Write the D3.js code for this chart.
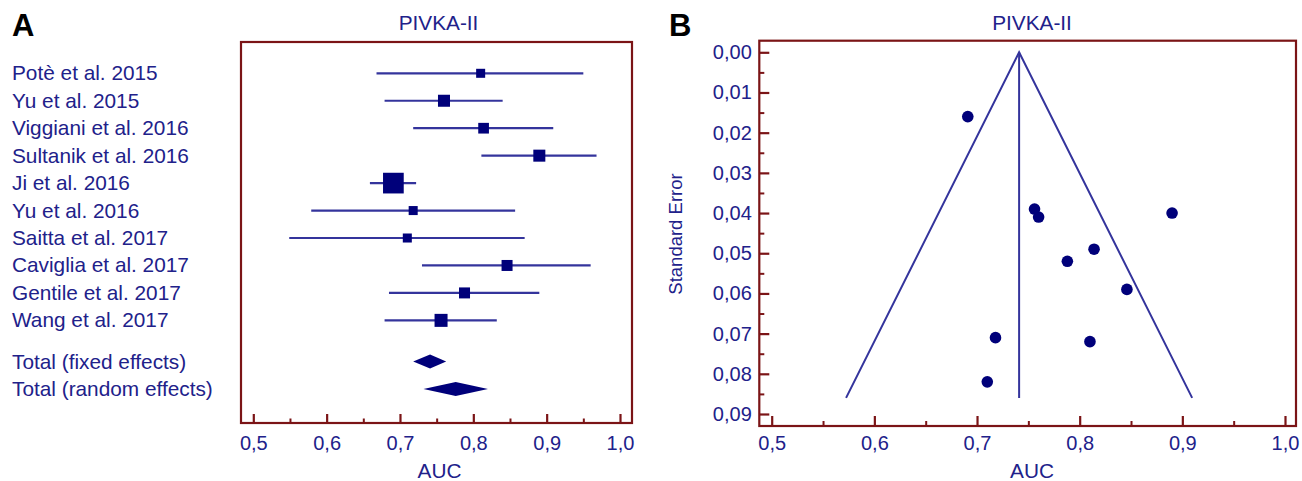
<!DOCTYPE html>
<html>
<head>
<meta charset="utf-8">
<script src="https://cdn.jsdelivr.net/npm/d3@7"></script>
<style>
  html, body { margin: 0; padding: 0; background: #fff; }
  svg { display: block; font-family: "Liberation Sans", Arial, sans-serif; }
</style>
</head>
<body>
<svg id="chart" width="1302" height="481"></svg>
<script>
// ---------- data ----------
const studies = ["Potè et al. 2015", "Yu et al. 2015", "Viggiani et al. 2016", "Sultanik et al. 2016",
  "Ji et al. 2016", "Yu et al. 2016", "Saitta et al. 2017", "Caviglia et al. 2017",
  "Gentile et al. 2017", "Wang et al. 2017"];
const auc     = [0.810, 0.760, 0.814, 0.890, 0.691, 0.718, 0.710, 0.846, 0.788, 0.756];
const ciLow   = [0.668, 0.679, 0.718, 0.811, 0.659, 0.579, 0.549, 0.730, 0.685, 0.679];
const ciHigh  = [0.950, 0.840, 0.909, 0.968, 0.722, 0.857, 0.870, 0.960, 0.890, 0.832];
const stdErr  = [0.072, 0.041, 0.049, 0.040, 0.016, 0.071, 0.082, 0.059, 0.052, 0.039];
const weights = [2.2, 8.7, 5.3, 8.7, 52.0, 2.2, 2.2, 6.0, 6.0, 11.8];
const totalLabels = ["Total (fixed effects)", "Total (random effects)"];
const totalLow  = [0.718, 0.732];
const totalEst  = [0.741, 0.776];
const totalHigh = [0.763, 0.820];
const funnelMaxSE = 0.086;
const aucTicks = [0.5, 0.6, 0.7, 0.8, 0.9, 1.0];
const aucMinorTicks = [0.55, 0.65, 0.75, 0.85, 0.95];
const seTicks = [0, 0.01, 0.02, 0.03, 0.04, 0.05, 0.06, 0.07, 0.08, 0.09];
const seMinorTicks = [0.005, 0.015, 0.025, 0.035, 0.045, 0.055, 0.065, 0.075, 0.085];
const title = "PIVKA-II";

// ---------- style ----------
const TEXT = "#21218a";
const LINE = "#34349c";
const MARK = "#00007a";
const BORDER = "#7b1416";
const FS = 20;
const FS_LBL = 20.8;

const loc = d3.formatLocale({decimal: ",", thousands: ".", grouping: [3], currency: ["", ""]});
const f1 = loc.format(".1f"), f2 = loc.format(".2f");

const svg = d3.select("#chart");

// ================= Panel A: forest plot =================
const A = {left: 241, right: 632, top: 42, bottom: 423};
const xA = d3.scaleLinear().domain([0.5, 1.0]).range([253.3, 620]);
const rowLabels = studies.concat(totalLabels);
const rowPos = studies.map((d, i) => i).concat([10.5, 11.5]);
const yA = d3.scaleLinear().domain([0, 11.5]).range([73.3, 389]);
const sizeA = d3.scaleSqrt().domain([0, d3.max(weights)]).range([6, 20.7]);

const gA = svg.append("g");
svg.append("text").attr("x", 12).attr("y", 36).attr("font-size", 31).attr("font-weight", "bold")
  .attr("fill", "#000").text("A");
gA.append("text").attr("x", (A.left + A.right) / 2 + 2).attr("y", 29.5).attr("text-anchor", "middle")
  .attr("font-size", FS_LBL).attr("fill", TEXT).text(title);

// row labels
gA.selectAll("text.row").data(rowLabels).join("text").attr("class", "row")
  .attr("x", 12).attr("y", (d, i) => yA(rowPos[i]) + 7)
  .attr("font-size", FS_LBL).attr("fill", TEXT).text(d => d);

// CI lines
gA.selectAll("line.ci").data(studies).join("line").attr("class", "ci")
  .attr("x1", (d, i) => xA(ciLow[i])).attr("x2", (d, i) => xA(ciHigh[i]))
  .attr("y1", (d, i) => yA(i)).attr("y2", (d, i) => yA(i))
  .attr("stroke", LINE).attr("stroke-width", 2.2);
// squares
gA.selectAll("rect.pt").data(studies).join("rect").attr("class", "pt")
  .attr("x", (d, i) => xA(auc[i]) - sizeA(weights[i]) / 2)
  .attr("y", (d, i) => yA(i) - sizeA(weights[i]) / 2)
  .attr("width", (d, i) => sizeA(weights[i]))
  .attr("height", (d, i) => sizeA(weights[i]))
  .attr("fill", MARK);
// diamonds
gA.selectAll("path.dia").data(totalLabels).join("path").attr("class", "dia")
  .attr("d", (d, i) => {
    const y = yA(rowPos[10 + i]), h = 7;
    return `M${xA(totalLow[i])},${y} L${xA(totalEst[i])},${y - h} L${xA(totalHigh[i])},${y} L${xA(totalEst[i])},${y + h} Z`;
  })
  .attr("fill", MARK);

// box
gA.append("rect").attr("x", A.left).attr("y", A.top).attr("width", A.right - A.left).attr("height", A.bottom - A.top)
  .attr("fill", "none").attr("stroke", BORDER).attr("stroke-width", 2.2);

// x axis
const axA = gA.append("g").attr("transform", `translate(0,${A.bottom})`)
  .call(d3.axisBottom(xA).tickValues(aucTicks).tickSize(-9).tickPadding(13).tickFormat(f1));
axA.select(".domain").remove();
axA.selectAll("line").attr("stroke", BORDER).attr("stroke-width", 2.2);
axA.selectAll("text").attr("font-size", FS).attr("fill", TEXT).attr("font-family", "Liberation Sans, Arial, sans-serif");
const axAm = gA.append("g").attr("transform", `translate(0,${A.bottom})`)
  .call(d3.axisBottom(xA).tickValues(aucMinorTicks).tickSize(-4.5).tickFormat(""));
axAm.select(".domain").remove();
axAm.selectAll("line").attr("stroke", BORDER).attr("stroke-width", 2);
gA.append("text").attr("x", (A.left + A.right) / 2 + 3).attr("y", 478).attr("text-anchor", "middle")
  .attr("font-size", FS_LBL).attr("fill", TEXT).text("AUC");

// ================= Panel B: funnel plot =================
const B = {left: 759.3, right: 1296, top: 40.7, bottom: 426};
const xB = d3.scaleLinear().domain([0.5, 1.0]).range([771.7, 1285]);
const yB = d3.scaleLinear().domain([0, 0.09]).range([52.3, 414]);

const gB = svg.append("g");
svg.append("text").attr("x", 669).attr("y", 36).attr("font-size", 31).attr("font-weight", "bold")
  .attr("fill", "#000").text("B");
gB.append("text").attr("x", 1032).attr("y", 29.5).attr("text-anchor", "middle")
  .attr("font-size", FS_LBL).attr("fill", TEXT).text(title);

// funnel
const center = totalEst[0];
const funnel = [
  [[center - 1.96 * funnelMaxSE, funnelMaxSE], [center, 0], [center + 1.96 * funnelMaxSE, funnelMaxSE]],
  [[center, 0], [center, funnelMaxSE]]
];
const lineGen = d3.line().x(d => xB(d[0])).y(d => yB(d[1]));
gB.selectAll("path.funnel").data(funnel).join("path").attr("class", "funnel")
  .attr("d", lineGen).attr("fill", "none").attr("stroke", LINE).attr("stroke-width", 2);

// points
gB.selectAll("circle").data(studies).join("circle")
  .attr("cx", (d, i) => xB(auc[i])).attr("cy", (d, i) => yB(stdErr[i]))
  .attr("r", 5.8).attr("fill", MARK);

// box
gB.append("rect").attr("x", B.left).attr("y", B.top).attr("width", B.right - B.left).attr("height", B.bottom - B.top)
  .attr("fill", "none").attr("stroke", BORDER).attr("stroke-width", 2.2);

// x axis
const axB = gB.append("g").attr("transform", `translate(0,${B.bottom})`)
  .call(d3.axisBottom(xB).tickValues(aucTicks).tickSize(-10).tickPadding(10).tickFormat(f1));
axB.select(".domain").remove();
axB.selectAll("line").attr("stroke", BORDER).attr("stroke-width", 2.2);
axB.selectAll("text").attr("font-size", FS).attr("fill", TEXT).attr("font-family", "Liberation Sans, Arial, sans-serif");
const axBm = gB.append("g").attr("transform", `translate(0,${B.bottom})`)
  .call(d3.axisBottom(xB).tickValues(aucMinorTicks).tickSize(-5).tickFormat(""));
axBm.select(".domain").remove();
axBm.selectAll("line").attr("stroke", BORDER).attr("stroke-width", 2);

// y axis
const ayB = gB.append("g").attr("transform", `translate(${B.left},0)`)
  .call(d3.axisLeft(yB).tickValues(seTicks).tickSize(-10).tickPadding(7.5).tickFormat(f2));
ayB.select(".domain").remove();
ayB.selectAll("line").attr("stroke", BORDER).attr("stroke-width", 2.2);
ayB.selectAll("text").attr("font-size", FS).attr("fill", TEXT).attr("font-family", "Liberation Sans, Arial, sans-serif");
const ayBm = gB.append("g").attr("transform", `translate(${B.left},0)`)
  .call(d3.axisLeft(yB).tickValues(seMinorTicks).tickSize(-5).tickFormat(""));
ayBm.select(".domain").remove();
ayBm.selectAll("line").attr("stroke", BORDER).attr("stroke-width", 2);

gB.append("text").attr("x", 1032).attr("y", 478).attr("text-anchor", "middle")
  .attr("font-size", FS_LBL).attr("fill", TEXT).text("AUC");
gB.append("text").attr("transform", "translate(682,234) rotate(-90)").attr("text-anchor", "middle")
  .attr("font-size", 18.5).attr("fill", TEXT).text("Standard Error");
</script>
</body>
</html>
